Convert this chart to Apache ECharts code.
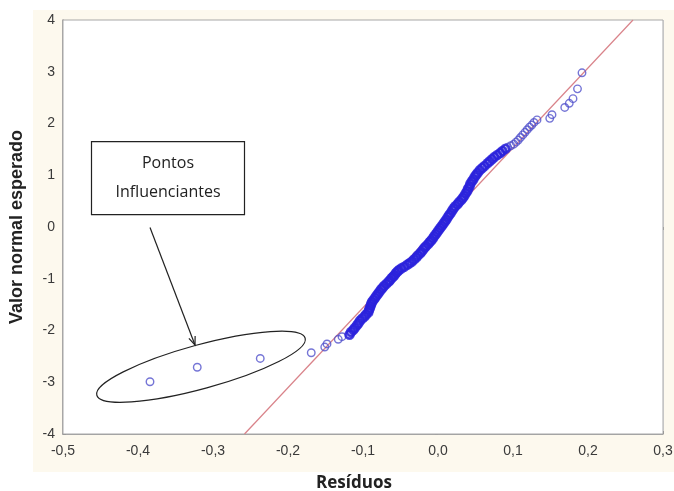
<!DOCTYPE html>
<html>
<head>
<meta charset="utf-8">
<script src="https://cdn.jsdelivr.net/npm/echarts@6/dist/echarts.min.js"></script>
<style>
html,body{margin:0;padding:0;background:#ffffff;}
#chart{width:674px;height:491px;}
</style>
</head>
<body>
<div id="chart"></div>
<script>
// Residuals (x) and expected normal values (y)
const residuos = [
  -0.384, -0.321, -0.237, -0.169, -0.151, -0.148, -0.133, -0.128,
  -0.118, -0.116, -0.113, -0.111, -0.108, -0.106, -0.104, -0.101, -0.098, -0.096, -0.093,
  -0.092, -0.091, -0.090, -0.089, -0.088, -0.086,
  -0.084, -0.082, -0.080, -0.078, -0.076, -0.074, -0.072, -0.069, -0.066,
  -0.064, -0.062, -0.060, -0.058, -0.056, -0.054, -0.052,
  -0.049, -0.045, -0.041, -0.038, -0.035, -0.032, -0.029, -0.027, -0.024,
  -0.022, -0.020, -0.018, -0.016, -0.013, -0.011, -0.009, -0.007, -0.005, -0.003, -0.001, 0.001, 0.003, 0.005, 0.007,
  0.009, 0.011, 0.013, 0.015, 0.017, 0.019, 0.021, 0.023, 0.026, 0.028, 0.031, 0.033, 0.035,
  0.037, 0.039, 0.040, 0.042, 0.043, 0.045, 0.047, 0.049, 0.051, 0.053, 0.056,
  0.059, 0.062, 0.066, 0.069, 0.072, 0.075, 0.079, 0.083, 0.086, 0.090,
  0.093, 0.097, 0.101, 0.104, 0.107, 0.110, 0.113, 0.116, 0.119, 0.122, 0.125, 0.128, 0.132,
  0.149, 0.152, 0.169, 0.175, 0.180, 0.186, 0.192
];
const normalEsperado = [
  -2.99, -2.71, -2.54, -2.43, -2.32, -2.26, -2.17, -2.12,
  -2.08, -2.03, -1.99, -1.95, -1.90, -1.86, -1.81, -1.77, -1.73, -1.69, -1.65,
  -1.61, -1.57, -1.53, -1.49, -1.45, -1.41,
  -1.37, -1.33, -1.29, -1.25, -1.21, -1.18, -1.14, -1.10, -1.06,
  -1.03, -0.99, -0.96, -0.93, -0.89, -0.86, -0.83,
  -0.80, -0.77, -0.73, -0.70, -0.67, -0.63, -0.59, -0.55, -0.51,
  -0.48, -0.44, -0.40, -0.37, -0.33, -0.29, -0.26, -0.22, -0.18, -0.14, -0.10, -0.06, -0.02, 0.02, 0.06,
  0.10, 0.14, 0.19, 0.23, 0.27, 0.32, 0.36, 0.40, 0.44, 0.48, 0.52, 0.56, 0.60,
  0.65, 0.69, 0.74, 0.78, 0.83, 0.88, 0.92, 0.97, 1.01, 1.05, 1.10,
  1.14, 1.18, 1.23, 1.27, 1.31, 1.35, 1.39, 1.43, 1.47, 1.51,
  1.54, 1.57, 1.60, 1.64, 1.68, 1.73, 1.78, 1.83, 1.88, 1.93, 1.97, 2.02, 2.07,
  2.10, 2.17, 2.31, 2.39, 2.48, 2.67, 2.98
];
// Reference (fitted) line end points
const retaX = [-0.258, 0.260];
const retaY = [-4, 4];
// Axis ticks
const xTicks = [-0.5, -0.4, -0.3, -0.2, -0.1, 0.0, 0.1, 0.2, 0.3];
const yTicks = [-4, -3, -2, -1, 0, 1, 2, 3, 4];
const annotationLines = ['Pontos', 'Influenciantes'];
const xTitle = 'Resíduos';
const yTitle = 'Valor normal esperado';

const pontos = residuos.map((x, i) => [x, normalEsperado[i]]);
// the crowded central part of the band is drawn darker (overplotting in the original)
const pontosDensos = pontos.filter(p => p[1] >= -2.1 && p[1] <= 1.52);
const reta = retaX.map((x, i) => [x, retaY[i]]);

const chart = echarts.init(document.getElementById('chart'), null, {renderer: 'canvas'});

const fmtX = v => (Math.round(v * 10) / 10).toFixed(1).replace('.', ',').replace('-0,0', '0,0');
const axisLabelStyle = {color: '#3a3a3a', fontFamily: 'Liberation Sans, Arial, sans-serif', fontSize: 14};

const option = {
  backgroundColor: '#ffffff',
  animation: false,
  grid: {left: 63, right: 11, top: 20, bottom: 57, outerBoundsMode: 'none', containLabel: false,
    show: true, backgroundColor: '#ffffff', borderColor: '#a8a8a8', borderWidth: 1, z: 1},
  xAxis: [{
    type: 'value', min: xTicks[0], max: xTicks[xTicks.length - 1], interval: 0.1,
    axisLine: {show: true, onZero: false, lineStyle: {color: '#8a8a8a', width: 1.5}},
    axisTick: {show: true, inside: true, length: 3, lineStyle: {color: '#8a8a8a'}},
    splitLine: {show: true, lineStyle: {color: '#e3e3e3', width: 1}},
    axisLabel: Object.assign({formatter: fmtX, margin: 10}, axisLabelStyle),
    name: xTitle, nameLocation: 'middle', nameGap: 41,
    nameTextStyle: {fontFamily: 'Open Sans, sans-serif', fontWeight: 'bold', fontSize: 17, color: '#222', padding: [0, 18, 0, 0]}
  }, {
    type: 'value', position: 'top', min: xTicks[0], max: xTicks[xTicks.length - 1], interval: 0.1,
    axisLine: {show: false}, axisTick: {show: true, inside: true, length: 3, lineStyle: {color: '#9a9a9a'}},
    splitLine: {show: false}, axisLabel: {show: false}
  }],
  yAxis: [{
    type: 'value', min: yTicks[0], max: yTicks[yTicks.length - 1], interval: 1,
    axisLine: {show: true, onZero: false, lineStyle: {color: '#8a8a8a', width: 1.5}},
    axisTick: {show: true, inside: true, length: 3, lineStyle: {color: '#8a8a8a'}},
    splitLine: {show: true, lineStyle: {color: '#e3e3e3', width: 1}},
    axisLabel: Object.assign({margin: 8, formatter: v => String(v)}, axisLabelStyle),
    name: yTitle, nameLocation: 'middle', nameGap: 37, nameRotate: 90,
    nameTextStyle: {fontFamily: 'Liberation Sans, Arial, sans-serif', fontWeight: 'bold', fontSize: 18, color: '#222'}
  }, {
    type: 'value', position: 'right', min: yTicks[0], max: yTicks[yTicks.length - 1], interval: 1,
    axisLine: {show: false}, axisTick: {show: true, inside: true, length: 3, lineStyle: {color: '#9a9a9a'}},
    splitLine: {show: false}, axisLabel: {show: false}
  }],
  series: [{
    type: 'line', data: reta, showSymbol: false, symbol: 'none', z: 3,
    lineStyle: {color: '#d9838a', width: 1.2}, silent: true
  }, {
    type: 'scatter', data: pontos, symbol: 'circle', symbolSize: 7.5, z: 4,
    itemStyle: {color: 'rgba(0,0,0,0)', borderColor: '#5252cc', borderWidth: 1.4}
  }, {
    type: 'scatter', data: pontosDensos, symbol: 'circle', symbolSize: 8, z: 5,
    itemStyle: {color: 'rgba(0,0,0,0)', borderColor: '#2a22dc', borderWidth: 2.6}
  }]
};
chart.setOption(option);

// Annotation (decoration) positioned from data coordinates
const c = chart.convertToPixel({gridIndex: 0}, [-0.316, -2.70]);
const boxTL = chart.convertToPixel({gridIndex: 0}, [-0.462, 1.65]);
const arrowStart = chart.convertToPixel({gridIndex: 0}, [-0.384, -0.01]);
const arrowEnd = chart.convertToPixel({gridIndex: 0}, [-0.324, -2.28]);
const dx = arrowEnd[0] - arrowStart[0], dy = arrowEnd[1] - arrowStart[1];
const ang = Math.atan2(dy, dx);
const ah = 9, aw = 0.38;
const p1 = [arrowEnd[0] - ah * Math.cos(ang - aw), arrowEnd[1] - ah * Math.sin(ang - aw)];
const p2 = [arrowEnd[0] - ah * Math.cos(ang + aw), arrowEnd[1] - ah * Math.sin(ang + aw)];

chart.setOption({
  graphic: [
    {type: 'rect', z: -10, silent: true, shape: {x: 33, y: 10, width: 641, height: 462}, style: {fill: '#fdf9ee'}},
    {type: 'ellipse', x: c[0], y: c[1], rotation: 0.267, z: 100, silent: true,
      shape: {cx: 0, cy: 0, rx: 108, ry: 22}, style: {fill: 'none', stroke: '#222', lineWidth: 1.2}},
    {type: 'rect', z: 100, silent: true, shape: {x: boxTL[0], y: boxTL[1], width: 153, height: 73},
      style: {fill: '#ffffff', stroke: '#222', lineWidth: 1.2}},
    {type: 'text', z: 101, silent: true, x: boxTL[0] + 76.5, y: boxTL[1] + 22,
      style: {text: annotationLines[0], fill: '#222', font: '16px "Open Sans", sans-serif', align: 'center', verticalAlign: 'middle'}},
    {type: 'text', z: 101, silent: true, x: boxTL[0] + 76.5, y: boxTL[1] + 51,
      style: {text: annotationLines[1], fill: '#222', font: '16px "Open Sans", sans-serif', align: 'center', verticalAlign: 'middle'}},
    {type: 'line', z: 100, silent: true, shape: {x1: arrowStart[0], y1: arrowStart[1], x2: arrowEnd[0], y2: arrowEnd[1]},
      style: {stroke: '#222', lineWidth: 1.2}},
    {type: 'polyline', z: 100, silent: true, shape: {points: [p1, arrowEnd, p2]}, style: {stroke: '#222', lineWidth: 1.2, fill: 'none'}}
  ]
});
</script>
</body>
</html>
